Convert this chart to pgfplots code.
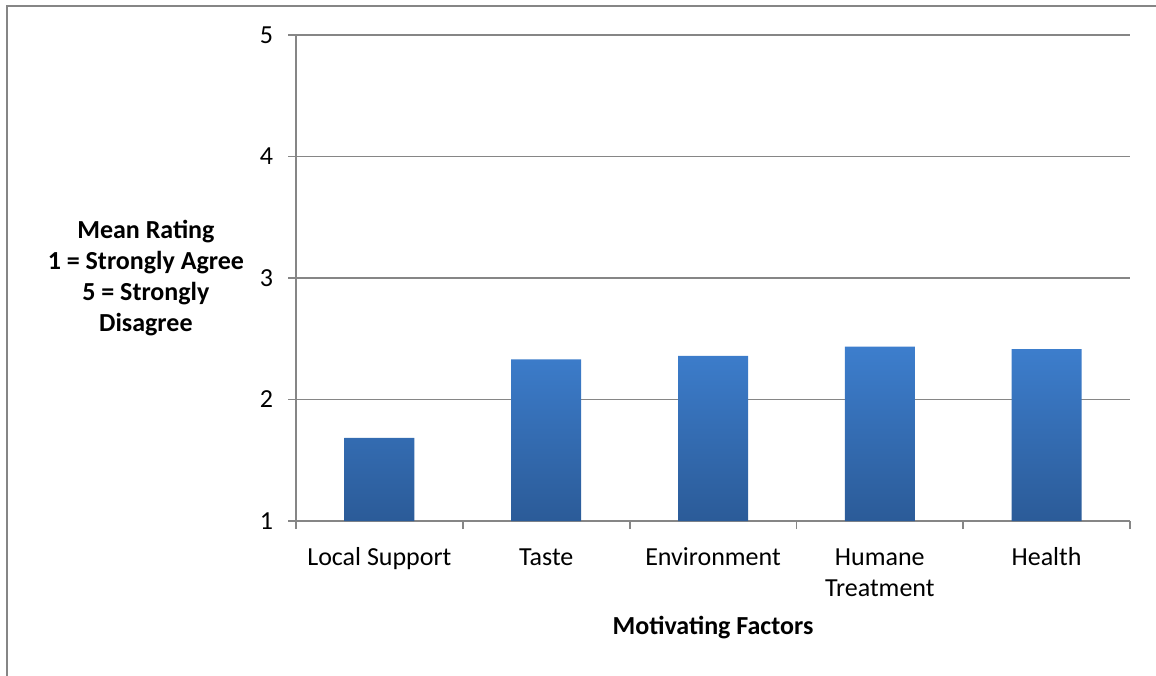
\documentclass[border=0pt]{standalone}
\usepackage{pgfplots}
\pgfplotsset{compat=1.18}
\usepackage{fontspec}
\setmainfont{Carlito}
\definecolor{gridgray}{RGB}{134,134,134}
\definecolor{bartop}{RGB}{61,126,205}
\definecolor{barbot}{RGB}{43,91,152}
\begin{document}
\begin{tikzpicture}
\path[use as bounding box] (0,0) rectangle (578pt,-337.5pt);
\draw[gridgray, line width=1pt] (3.5pt,-400pt) -- (3.5pt,-2.8pt) -- (600pt,-2.8pt);
\begin{axis}[
  at={(148pt,-260.5pt)}, anchor=south west,
  scale only axis, width=417pt, height=243pt,
  xmin=-0.5, xmax=4.5, ymin=1, ymax=5,
  ytick={1,2,3,4,5},
  xtick={0,1,2,3,4},
  xticklabels={\strut Local Support,\strut Taste,\strut Environment,{\strut Humane\\Treatment},\strut Health},
  minor xtick={-0.5,0.5,1.5,2.5,3.5,4.5},
  axis x line*=bottom, axis y line*=left,
  axis line style={gridgray, line width=0.9pt, -},
  every tick/.style={gridgray, line width=0.9pt},
  tick align=outside,
  major tick length=4pt, minor tick length=4pt,
  x tick style={draw=none},
  minor x tick style={draw=gridgray, line width=0.9pt},
  ymajorgrids, grid style={gridgray, line width=0.9pt},
  /pgf/number format/assume math mode=true,
  tick label style={font=\fontsize{13}{15.5}\selectfont, black},
  xticklabel style={align=center, anchor=north, yshift=-4pt},
  yticklabel style={xshift=-4pt},
  ylabel={Mean Rating\\1 = Strongly Agree\\5 = Strongly\\Disagree},
  ylabel style={rotate=-90, align=center, font=\fontsize{13}{15.5}\selectfont\bfseries,
    at={(axis description cs:-0.18,0.5)}, anchor=center},
  xlabel={Motivating Factors},
  xlabel style={font=\fontsize{13}{15}\selectfont\bfseries,
    at={(axis description cs:0.5,-0.22)}, anchor=center},
  ybar, bar width=35pt,
]
\addplot[ybar, draw=none, top color=bartop, bottom color=barbot, bar shift=0pt]
  coordinates {(0,1.685) (1,2.33) (2,2.36) (3,2.435) (4,2.415)};
\end{axis}
\end{tikzpicture}
\end{document}
